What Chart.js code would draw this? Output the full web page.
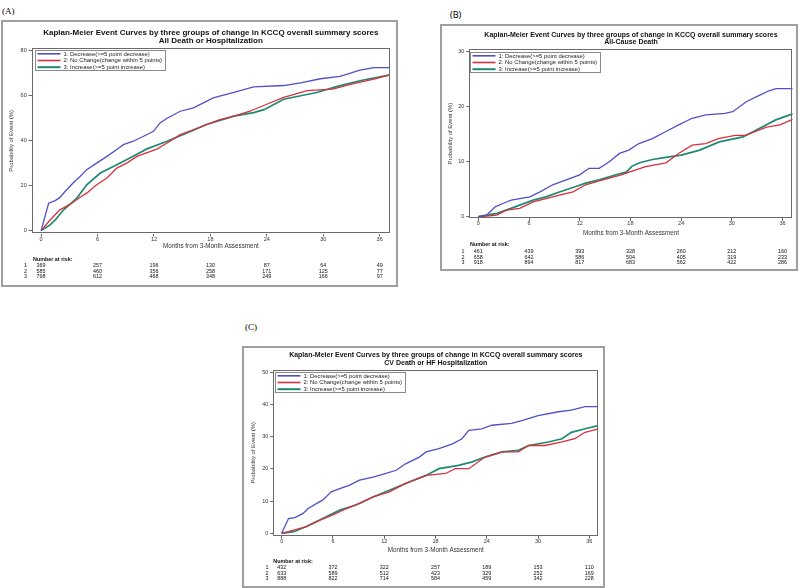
<!DOCTYPE html>
<html><head><meta charset="utf-8">
<script src="https://cdn.jsdelivr.net/npm/chart.js@4.4.0/dist/chart.umd.min.js"></script>
<style>
html,body{margin:0;padding:0;background:#fff;width:800px;height:588px;overflow:hidden;position:relative;}
canvas{position:absolute;left:0;top:0;}
.frame{position:absolute;border:2px solid #9f9f9f;box-sizing:border-box;}
.lab{position:absolute;font-family:"Liberation Serif",serif;font-size:9px;color:#000;line-height:10px;}
</style></head><body>
<div class="lab" style="left:2px;top:6px">(A)</div>
<div class="lab" style="left:450px;top:10px;font-family:'Noto Sans',sans-serif;font-size:9px">(B)</div>
<div class="lab" style="left:245px;top:322px">(C)</div>
<div class="frame" style="left:1px;top:20px;width:397px;height:267px"></div>
<div class="frame" style="left:440px;top:24px;width:358px;height:247px"></div>
<div class="frame" style="left:242px;top:346px;width:363px;height:242px"></div>
<canvas id="cA" width="800" height="588"></canvas>
<canvas id="cB" width="800" height="588"></canvas>
<canvas id="cC" width="800" height="588"></canvas>
<script>
// ---------- shared labels ----------
const seriesLabels = ['1: Decrease(>=5 point decrease)', '2: No Change(change within 5 points)', '3: Increase(>=5 point increase)'];
const monthTicks = [0, 6, 12, 18, 24, 30, 36];
const xTitle = 'Months from 3-Month Assessment';
const yTitle = 'Probability of Event (%)';
const mainTitle = 'Kaplan-Meier Event Curves by three groups of change in KCCQ overall summary scores';

// ---------- Panel A: All Death or Hospitalization ----------
const aSubtitle = 'All Death or Hospitalization';
const aYTicks = [0, 20, 40, 60, 80];
const aDecM = [0, 0.8, 1.5, 2.0, 2.55, 3.45, 4.15, 4.85, 5.9, 7.0, 8.05, 8.75, 9.8, 10.9, 11.95, 12.65, 13.4, 14.8, 16.2, 18.3, 20.4, 22.6, 25.8, 27.6, 29.7, 31.8, 33.9, 35.4, 37.1];
const aDecV = [0, 12.1, 13.3, 14.7, 17.3, 21.3, 24, 27, 29.9, 32.9, 35.9, 38.1, 39.6, 41.8, 44, 47.7, 49.8, 52.9, 54.4, 58.8, 61.1, 63.7, 64.3, 65.5, 67.3, 68.4, 71.1, 72.2, 72.2];
const aNoM = [0, 0.96, 2.0, 3.1, 4.15, 4.85, 5.9, 7.0, 8.05, 9.1, 10.2, 11.2, 12.3, 13.4, 14.8, 16.2, 17.6, 19.0, 20.5, 22.2, 24.0, 25.8, 28.3, 31.0, 33.1, 35.5, 37.1];
const aNoV = [0, 4.7, 9.2, 11.7, 14.8, 16.6, 20.3, 23.3, 27.7, 29.9, 32.9, 34.4, 36.1, 38.8, 42.5, 44.7, 47.0, 49.2, 50.7, 52.9, 56.0, 59.0, 62.0, 62.7, 65.0, 67.2, 69.0];
const aIncM = [0, 0.96, 1.5, 2.4, 3.8, 4.85, 6.3, 8.05, 9.8, 11.2, 13.4, 15.5, 17.6, 20.5, 22.6, 23.7, 25.8, 29.3, 31.5, 33.9, 37.1];
const aIncV = [0, 2.5, 4.7, 9.2, 14.4, 20.3, 25.5, 29.2, 32.9, 36.1, 39.6, 43.3, 47.0, 50.7, 52.3, 53.6, 58.2, 61.2, 63.9, 66.4, 69.0];
const aRisk1 = [369, 257, 196, 130, 87, 64, 49];
const aRisk2 = [585, 460, 356, 258, 171, 125, 77];
const aRisk3 = [798, 612, 468, 348, 249, 166, 97];

// ---------- Panel B: All-Cause Death ----------
const bSubtitle = 'All-Cause Death';
const bYTicks = [0, 10, 20, 30];
const bDecM = [0, 1.0, 2.0, 2.9, 3.9, 4.9, 6.1, 7.3, 8.8, 10.4, 12.0, 13.1, 14.3, 15.5, 16.7, 17.8, 19.0, 20.6, 22.2, 23.7, 25.3, 26.9, 29.2, 30.1, 31.7, 33.3, 34.4, 35.2, 37.2];
const bDecV = [0, 0.3, 1.8, 2.4, 3.0, 3.3, 3.6, 4.5, 5.8, 6.7, 7.6, 8.8, 8.8, 10.0, 11.5, 12.1, 13.3, 14.2, 15.5, 16.7, 17.9, 18.5, 18.8, 19.1, 20.9, 22.1, 22.9, 23.3, 23.3];
const bNoM = [0, 1.0, 2.2, 3.3, 4.9, 6.5, 8.0, 9.6, 11.2, 12.7, 14.3, 16.7, 18.2, 19.8, 22.2, 23.7, 25.3, 26.9, 28.4, 30.4, 31.6, 34.1, 35.7, 37.2];
const bNoV = [0, 0.1, 0.3, 1.2, 1.5, 2.7, 3.3, 3.9, 4.5, 5.8, 6.5, 7.5, 8.3, 9.1, 9.8, 11.5, 13.0, 13.3, 14.2, 14.8, 14.8, 16.3, 16.7, 17.7];
const bIncM = [0, 2.2, 3.3, 4.9, 6.5, 8.0, 9.6, 11.2, 12.7, 14.3, 16.7, 17.5, 18.2, 19.1, 20.6, 22.2, 24.0, 26.2, 28.5, 31.3, 33.3, 35.2, 37.2];
const bIncV = [0, 0.6, 1.2, 2.1, 3.0, 3.6, 4.5, 5.3, 6.1, 6.7, 7.8, 8.1, 9.2, 9.8, 10.4, 10.8, 11.2, 12.1, 13.6, 14.5, 16.1, 17.6, 18.7];
const bRisk1 = [461, 439, 393, 328, 260, 212, 160];
const bRisk2 = [658, 642, 586, 504, 405, 319, 233];
const bRisk3 = [918, 894, 817, 683, 562, 422, 286];

// ---------- Panel C: CV Death or HF Hospitalization ----------
const cSubtitle = 'CV Death or HF Hospitalization';
const cYTicks = [0, 10, 20, 30, 40, 50];
const cDecM = [0, 0.8, 1.55, 2.5, 3.1, 4.1, 4.8, 5.8, 6.8, 7.9, 9.1, 10.7, 12.2, 13.4, 14.5, 16.1, 16.9, 18.4, 20.0, 21.1, 21.9, 23.4, 24.6, 26.9, 28.1, 30.0, 32.4, 33.9, 35.5, 37.05];
const cDecV = [0, 4.6, 4.9, 6.2, 7.7, 9.3, 10.3, 12.9, 13.9, 14.9, 16.5, 17.5, 18.6, 19.6, 21.6, 23.7, 25.3, 26.3, 27.8, 29.4, 32.0, 32.5, 33.6, 34.2, 35.0, 36.6, 37.8, 38.3, 39.4, 39.4];
const cNoM = [0, 1.4, 2.9, 4.5, 6.0, 7.6, 9.1, 10.7, 12.6, 14.5, 16.9, 19.2, 20.3, 21.9, 23.8, 25.8, 27.7, 28.9, 30.8, 32.8, 34.3, 35.5, 37.05];
const cNoV = [0, 1.0, 2.1, 4.1, 5.7, 7.7, 9.3, 11.3, 12.9, 15.5, 18.0, 18.6, 20.1, 20.1, 23.7, 25.3, 25.3, 27.3, 27.3, 28.4, 29.4, 31.4, 32.5];
const cIncM = [0, 1.4, 2.9, 4.8, 6.8, 8.7, 10.7, 12.6, 14.5, 16.9, 18.4, 20.7, 22.3, 23.8, 25.8, 27.7, 28.9, 31.2, 32.8, 33.9, 35.5, 37.05];
const cIncV = [0, 0.5, 2.1, 4.6, 7.2, 8.8, 11.3, 13.4, 15.5, 18.0, 20.1, 21.1, 22.2, 23.7, 25.3, 25.8, 27.3, 28.4, 29.4, 31.4, 32.5, 33.5];
const cRisk1 = [432, 372, 322, 257, 189, 153, 110];
const cRisk2 = [633, 589, 512, 423, 329, 252, 169];
const cRisk3 = [888, 822, 714, 584, 459, 342, 228];

// ---------- rendering ----------
const FONT = '"Liberation Sans", Arial, sans-serif';
Chart.defaults.font.family = FONT;
const COLORS = ['#5050c8', '#d8303c', '#1e8a72'];
const WIDTHS = [1.3, 1.3, 1.7];

const pts = (m, v) => m.map((x, i) => ({x: x, y: v[i]}));

const kmDecor = {
  id: 'kmDecor',
  afterDatasetsDraw(chart, args, o) {
    const ctx = chart.ctx, ca = chart.chartArea, xs = chart.scales.x;
    ctx.save();
    // plot box
    ctx.strokeStyle = '#6a6a6a'; ctx.lineWidth = 1;
    ctx.strokeRect(Math.round(ca.left) + 0.5, Math.round(ca.top) + 0.5,
      Math.round(ca.right - ca.left) - 1, Math.round(ca.bottom - ca.top) - 1);
    // title
    ctx.fillStyle = '#111'; ctx.textAlign = 'center'; ctx.textBaseline = 'middle';
    ctx.font = 'bold ' + o.titleSize + 'px ' + FONT;
    const cx = (ca.left + ca.right) / 2;
    o.titleLines.forEach((t, i) => ctx.fillText(t, cx, ca.top + o.titleDy[i]));
    // legend
    const ds = chart.data.datasets;
    ctx.font = o.legSize + 'px ' + FONT;
    let w = 0; ds.forEach(d => { w = Math.max(w, ctx.measureText(d.label).width); });
    const lx = Math.round(ca.left + o.legDx) + 0.5, ly = Math.round(ca.top + o.legDy) + 0.5;
    const bw = Math.round(28 + w + 3), bh = 20;
    ctx.fillStyle = '#fff'; ctx.fillRect(lx, ly, bw, bh);
    ctx.strokeStyle = '#8a8a8a'; ctx.lineWidth = 1; ctx.strokeRect(lx, ly, bw, bh);
    ctx.textAlign = 'left';
    ds.forEach((d, i) => {
      const y = ly + 3.3 + 6.7 * i;
      ctx.strokeStyle = d.borderColor; ctx.lineWidth = d.borderWidth + 0.3;
      ctx.beginPath(); ctx.moveTo(lx + 2, y); ctx.lineTo(lx + 25, y); ctx.stroke();
      ctx.fillStyle = '#222'; ctx.fillText(d.label, lx + 28, y + 0.3);
    });
    // number at risk table
    const xb = xs.bottom;
    ctx.fillStyle = '#111';
    ctx.font = 'bold ' + o.riskSize + 'px ' + FONT;
    ctx.fillText('Number at risk:', ca.left + o.riskHeadDx, xb + o.riskDy[0]);
    ctx.font = o.riskSize + 'px ' + FONT;
    o.riskRows.forEach((row, r) => {
      const y = xb + o.riskDy[r + 1];
      ctx.textAlign = 'center';
      ctx.fillText(String(r + 1), ca.left - 6.3, y);
      row.forEach((n, k) => ctx.fillText(String(n), xs.getPixelForValue(monthTicks[k]), y));
    });
    ctx.restore();
  }
};

function makeChart(id, cfg) {
  const datasets = cfg.series.map((s, i) => ({
    label: seriesLabels[i], data: pts(s[0], s[1]), borderColor: COLORS[i],
    borderWidth: WIDTHS[i], pointRadius: 0, fill: false, tension: 0
  }));
  return new Chart(document.getElementById(id), {
    type: 'line',
    data: {datasets: datasets},
    plugins: [kmDecor],
    options: {
      responsive: false, animation: false, devicePixelRatio: 1,
      layout: {padding: cfg.padding},
      plugins: {
        legend: {display: false}, title: {display: false}, tooltip: {enabled: false},
        kmDecor: cfg.decor
      },
      scales: {
        x: {
          type: 'linear', min: cfg.xMin, max: cfg.xMax,
          afterBuildTicks: s => { s.ticks = monthTicks.map(v => ({value: v})); },
          afterFit: s => { s.height = cfg.xH; },
          grid: {drawOnChartArea: false, drawTicks: true, tickLength: 3, color: '#666', lineWidth: 1},
          border: {display: false},
          ticks: {font: {size: 5.5, lineHeight: 1}, color: '#333', padding: 0, maxRotation: 0, autoSkip: false,
                  callback: v => String(v)},
          title: {display: true, text: xTitle, font: {size: 6.3}, color: '#333', padding: 0}
        },
        y: {
          type: 'linear', min: cfg.yMin, max: cfg.yMax,
          afterBuildTicks: s => { s.ticks = cfg.yTicks.map(v => ({value: v})); },
          afterFit: s => { s.width = cfg.yW; },
          grid: {drawOnChartArea: false, drawTicks: true, tickLength: 3, color: '#666', lineWidth: 1},
          border: {display: false},
          ticks: {font: {size: 5.5, lineHeight: 1}, color: '#333', padding: 2, autoSkip: false,
                  callback: v => String(v)},
          title: {display: true, text: yTitle, font: {size: 5.9}, color: '#333', padding: 0}
        }
      }
    }
  });
}

makeChart('cA', {
  series: [[aDecM, aDecV], [aNoM, aNoV], [aIncM, aIncV]],
  padding: {left: 8.2, top: 48.3, right: 410, bottom: 337.5},
  xMin: -1, xMax: 37.1, yMin: -1.3, yMax: 80.8, yTicks: aYTicks, xH: 17, yW: 23.5,
  decor: {titleLines: [mainTitle, aSubtitle], titleDy: [-16, -8], titleSize: 8,
          legDx: 3.3, legDy: 1.7, legSize: 5.9,
          riskRows: [aRisk1, aRisk2, aRisk3], riskSize: 5.4, riskHeadDx: 1.3,
          riskDy: [8.8, 15.2, 20.8, 26.5]}
});
makeChart('cB', {
  series: [[bDecM, bDecV], [bNoM, bNoV], [bIncM, bIncV]],
  padding: {left: 447.2, top: 49.3, right: 7.3, bottom: 350.9},
  xMin: -1.065, xMax: 37.2, yMin: -0.24, yMax: 30.44, yTicks: bYTicks, xH: 19.1, yW: 22.1,
  decor: {titleLines: [mainTitle, bSubtitle], titleDy: [-14.4, -6.8], titleSize: 7,
          legDx: 0.7, legDy: 2.4, legSize: 5.9,
          riskRows: [bRisk1, bRisk2, bRisk3], riskSize: 5.4, riskHeadDx: 0.7,
          riskDy: [7.9, 14.6, 20.2, 25.6]}
});
makeChart('cC', {
  series: [[cDecM, cDecV], [cNoM, cNoV], [cIncM, cIncV]],
  padding: {left: 249.8, top: 370, right: 201.7, bottom: 34.2},
  xMin: -0.98, xMax: 37.05, yMin: -0.75, yMax: 50.78, yTicks: cYTicks, xH: 18.1, yW: 23.5,
  decor: {titleLines: [mainTitle, cSubtitle], titleDy: [-14.6, -6.9], titleSize: 7,
          legDx: 1.7, legDy: 1.7, legSize: 5.9,
          riskRows: [cRisk1, cRisk2, cRisk3], riskSize: 5.4, riskHeadDx: 0,
          riskDy: [7.9, 13.9, 19.7, 25.2]}
});
</script>
</body></html>
